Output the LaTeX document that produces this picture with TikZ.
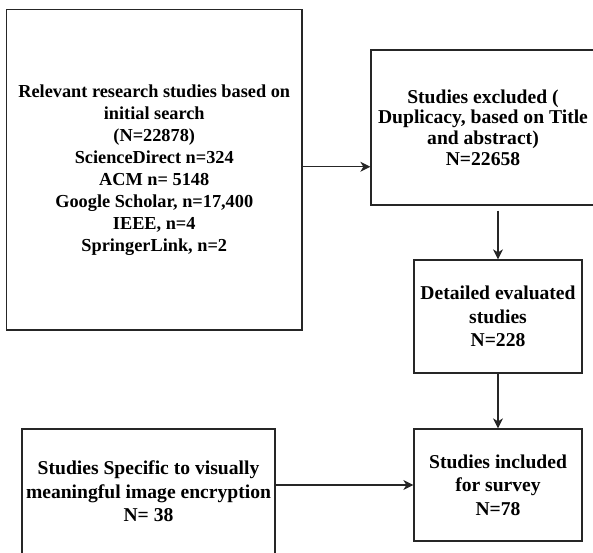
\documentclass[tikz,border=0pt]{standalone}
\usepackage{fontspec}
\setmainfont{Liberation Serif}
\usetikzlibrary{arrows.meta}

\begin{document}
\begin{tikzpicture}[x=1pt,y=-1pt,
  box/.style={draw=black!85,line width=1.3pt,align=center,inner sep=0pt,font=\bfseries\fontsize{19.6}{23.5}\selectfont},
  arr/.style={draw=black!85,line width=1.3pt,-{Stealth[length=10pt,width=10pt,inset=3pt]}}]
  \useasboundingbox (0,0) rectangle (593,552);
  \clip (0,0) rectangle (593,552);
  \node[box,minimum width=295.5pt,minimum height=320.5pt,font=\bfseries\fontsize{18.3}{22}\selectfont] (search) at (154.25,169.75)
    {Relevant research studies based on\\initial search\\(N=22878)\\ScienceDirect n=324\\ACM n= 5148\\Google Scholar, n=17,400\\IEEE, n=4\\SpringerLink, n=2};
  \node[box,minimum width=224pt,minimum height=155pt,font=\bfseries\fontsize{19.6}{20.6}\selectfont] (excluded) at (483,127.5)
    {Studies excluded (\\Duplicacy, based on Title\\and abstract)\\N=22658};
  \node[box,minimum width=168pt,minimum height=113pt] (evaluated) at (498,316.5) {Detailed evaluated\\studies\\N=228};
  \node[box,minimum width=168pt,minimum height=112pt] (included) at (498,485) {Studies included\\for survey\\N=78};
  \node[box,minimum width=253pt,minimum height=125pt] (specific) at (148.5,491.5)
    {Studies Specific to visually\\meaningful image encryption\\N= 38};
  \draw[arr] ([yshift=3pt]search.east) coordinate (s1) -- (s1 -| excluded.west);
  \draw[arr,shorten <=5pt] (excluded.south -| evaluated.north) -- (evaluated.north);
  \draw[arr] (evaluated) -- (included);
  \draw[arr] (specific.east |- included.west) -- (included.west);
\end{tikzpicture}
\end{document}
